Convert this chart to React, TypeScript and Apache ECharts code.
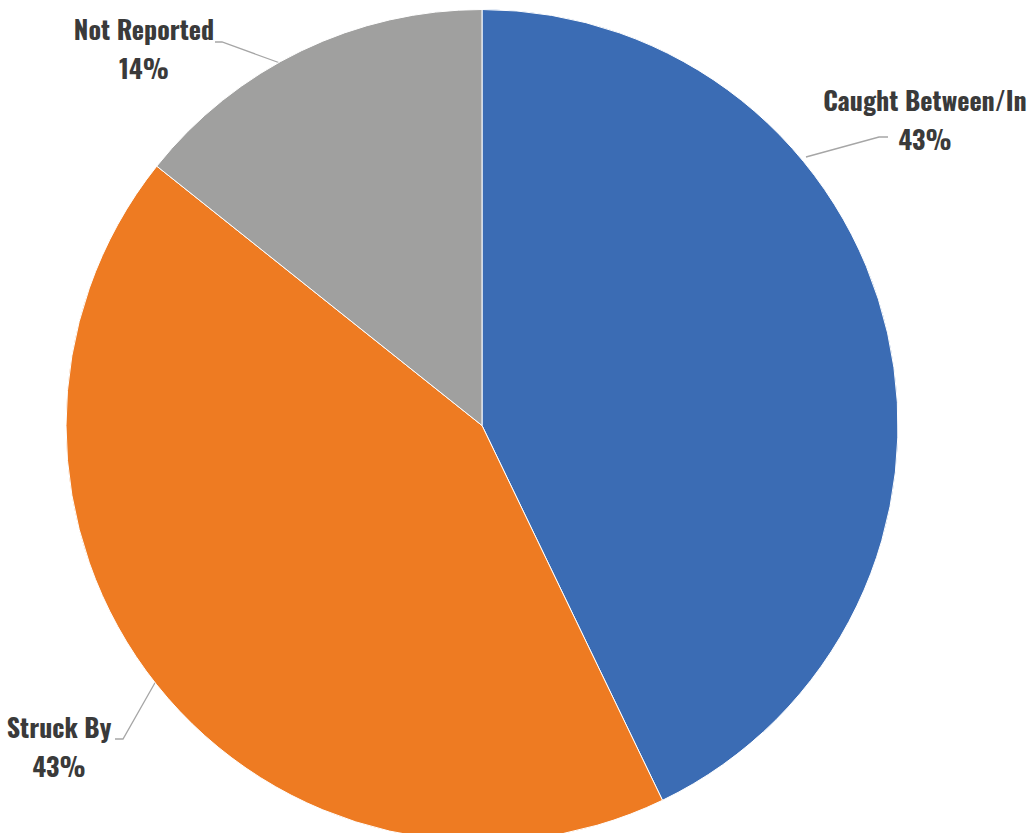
import React, { useEffect, useRef } from "react";
import * as echarts from "echarts";

const categories = ["Caught Between/In", "Struck By", "Not Reported"];
const values = [3, 3, 1];
const colors = ["#3B6CB4", "#EE7B22", "#A0A09F"];

// label block centres and leader line points
const labelSpots = [
  { x: 925, y: 119, line: [[806, 157], [879, 137], [888, 137]] },
  { x: 59, y: 746, line: [[156, 681], [123, 739], [115, 739]] },
  { x: 144, y: 48, line: [[280, 63], [222, 42], [215, 42]] },
];

export default function App() {
  const ref = useRef<HTMLDivElement>(null);
  useEffect(() => {
    document.body.style.margin = "0";
    const chart = echarts.init(ref.current!, undefined, { renderer: "svg" });
    chart.setOption({
      animation: false,
      backgroundColor: "#ffffff",
      series: [
        {
          type: "pie",
          center: [482, 425.5],
          radius: [0, 416],
          startAngle: 90,
          clockwise: true,
          percentPrecision: 0,
          avoidLabelOverlap: false,
          data: categories.map((c, i) => ({
            name: c,
            value: values[i],
            itemStyle: { color: colors[i] },
          })),
          itemStyle: { borderColor: "#ffffff", borderWidth: 1 },
          label: {
            show: true,
            formatter: "{b}\n{d}%",
            fontFamily: "Oswald, 'Roboto Condensed', sans-serif",
            fontWeight: "bold",
            fontSize: 26,
            lineHeight: 39,
            color: "#3A3A3A",
            align: "center",
          },
          labelLine: {
            show: true,
            lineStyle: { color: "#A6A6A6", width: 1.3 },
          },
          labelLayout: (params: any) => {
            const s = labelSpots[params.dataIndex];
            return {
              x: s.x,
              y: s.y,
              align: "center",
              verticalAlign: "middle",
              labelLinePoints: s.line,
            };
          },
        },
      ],
    });
    return () => chart.dispose();
  }, []);
  return (
    <div
      ref={ref}
      style={{ position: "absolute", left: 0, top: 0, width: 1029, height: 833 }}
    />
  );
}
